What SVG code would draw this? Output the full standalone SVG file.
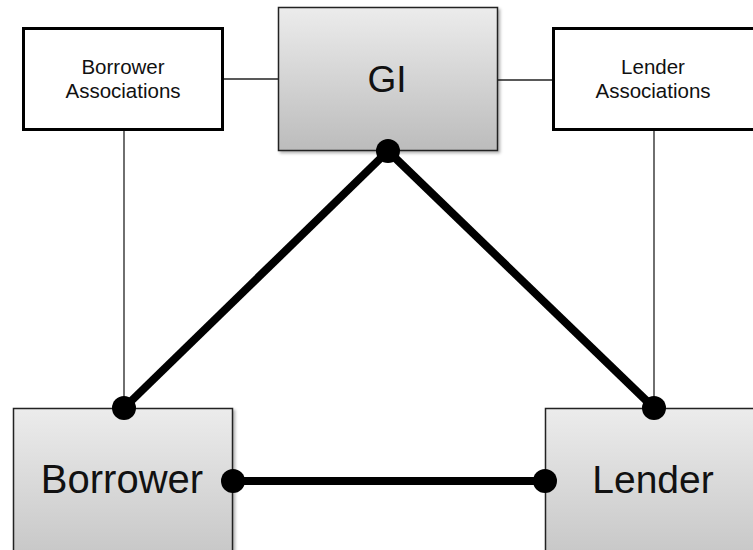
<svg xmlns="http://www.w3.org/2000/svg" width="753" height="550" viewBox="0 0 753 550">
<defs>
<linearGradient id="g" x1="0" y1="0" x2="0" y2="1">
<stop offset="0" stop-color="#ececec"/>
<stop offset="1" stop-color="#bcbcbc"/>
</linearGradient>
<linearGradient id="g2" x1="0" y1="0" x2="0" y2="1">
<stop offset="0" stop-color="#ececec"/>
<stop offset="1" stop-color="#c4c4c4"/>
</linearGradient>
<filter id="sh" x="-10%" y="-10%" width="130%" height="130%">
<feDropShadow dx="2" dy="2" stdDeviation="1.5" flood-color="#000" flood-opacity="0.3"/>
</filter>
</defs>
<style>
.t{font-family:"Liberation Sans",Arial,sans-serif;fill:#111;text-anchor:middle}
.assoc{fill:#fff;stroke:#000;stroke-width:3}
.main{stroke:#222;stroke-width:1.5}
.thin{stroke:#222;stroke-width:1.3;fill:none}
.thick{stroke:#000;stroke-width:8;fill:none}
</style>
<rect width="753" height="550" fill="#fff"/>
<g id="connectors">
<line class="thin" x1="223" y1="79" x2="278" y2="79"/>
<line class="thin" x1="498" y1="80" x2="553" y2="80"/>
<line class="thin" x1="124" y1="130" x2="124" y2="408"/>
<line class="thin" x1="654" y1="130" x2="654" y2="408"/>
</g>
<g id="borrower-associations">
<rect class="assoc" x="23.5" y="28.5" width="199" height="101"/>
<text class="t" x="123" y="74" font-size="20.5">Borrower</text>
<text class="t" x="123" y="98" font-size="20.5">Associations</text>
</g>
<g id="lender-associations">
<rect class="assoc" x="553.5" y="28.5" width="210" height="101"/>
<text class="t" x="653" y="74" font-size="20.5">Lender</text>
<text class="t" x="653" y="98" font-size="20.5">Associations</text>
</g>
<g id="gi">
<rect class="main" x="278.5" y="7.5" width="219" height="143" fill="url(#g)" filter="url(#sh)"/>
<text class="t" x="387" y="92" font-size="37">GI</text>
</g>
<g id="borrower">
<rect class="main" x="13.5" y="408.5" width="219" height="160" fill="url(#g2)" filter="url(#sh)"/>
<text class="t" x="122" y="493" font-size="40">Borrower</text>
</g>
<g id="lender">
<rect class="main" x="545.5" y="408.5" width="230" height="160" fill="url(#g2)" filter="url(#sh)"/>
<text class="t" x="653" y="493" font-size="39">Lender</text>
</g>
<g id="thick-connectors">
<line class="thick" x1="388" y1="151" x2="124" y2="408"/>
<line class="thick" x1="388" y1="151" x2="654" y2="408"/>
<line class="thick" x1="233" y1="481" x2="545" y2="481"/>
<circle cx="388" cy="151" r="12"/>
<circle cx="124" cy="408" r="12"/>
<circle cx="654" cy="408" r="12"/>
<circle cx="233" cy="481" r="12"/>
<circle cx="545" cy="481" r="12"/>
</g>
</svg>
